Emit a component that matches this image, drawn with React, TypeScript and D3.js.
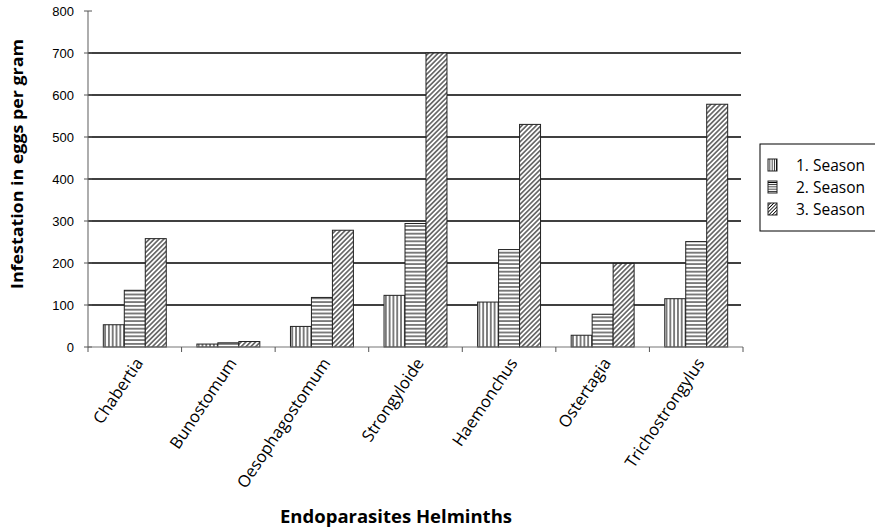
import { useEffect, useRef } from "react";
import * as d3 from "d3";

const categories = [
  "Chabertia",
  "Bunostomum",
  "Oesophagostomum",
  "Strongyloide",
  "Haemonchus",
  "Ostertagia",
  "Trichostrongylus",
];
const seasonNames = ["1. Season", "2. Season", "3. Season"];
const season1 = [53, 7, 49, 123, 107, 28, 115];
const season2 = [135, 10, 118, 294, 232, 78, 251];
const season3 = [258, 13, 278, 700, 530, 199, 578];
const yTicks = [0, 100, 200, 300, 400, 500, 600, 700, 800];

const W = 875;
const H = 530;
const labelFont = "'Open Sans', 'Noto Sans', sans-serif";
const tickFont = "'Liberation Sans', Arial, sans-serif";

export default function App() {
  const svgRef = useRef<SVGSVGElement | null>(null);

  useEffect(() => {
    if (!svgRef.current) return;
    const svg = d3.select(svgRef.current);
    svg.selectAll("*").remove();

    const plot = { left: 88, right: 743, top: 11, bottom: 347 };

    const x = d3
      .scaleBand<string>()
      .domain(categories)
      .range([plot.left, plot.right])
      .padding(0);
    const xInner = d3
      .scaleBand<string>()
      .domain(seasonNames)
      .range([0, x.bandwidth()])
      .paddingInner(0)
      .paddingOuter(0.73);
    const y = d3.scaleLinear().domain([0, 800]).range([plot.bottom, plot.top]);

    // hatch patterns, one per season (denser copies for the legend swatches)
    const defs = svg.append("defs");
    const addPattern = (id: string, rotate: number, step: number, sw: number) => {
      const p = defs
        .append("pattern")
        .attr("id", id)
        .attr("patternUnits", "userSpaceOnUse")
        .attr("width", step)
        .attr("height", step)
        .attr("patternTransform", `rotate(${rotate})`);
      p.append("rect").attr("width", step).attr("height", step).attr("fill", "#fff");
      p.append("line")
        .attr("x1", step / 2).attr("x2", step / 2).attr("y1", 0).attr("y2", step)
        .attr("stroke", "#000").attr("stroke-width", sw);
    };
    addPattern("pat-s1", 0, 3.8, 1);
    addPattern("pat-s2", 90, 3.8, 1);
    addPattern("pat-s3", 45, 3.4, 1);
    addPattern("leg-s1", 0, 2.2, 0.8);
    addPattern("leg-s2", 90, 2.2, 0.8);
    addPattern("leg-s3", 45, 2.4, 0.8);

    const fills = ["url(#pat-s1)", "url(#pat-s2)", "url(#pat-s3)"];
    const legFills = ["url(#leg-s1)", "url(#leg-s2)", "url(#leg-s3)"];
    const series = [season1, season2, season3];

    svg.append("rect").attr("width", W).attr("height", H).attr("fill", "#fff");

    // gridlines
    svg
      .append("g")
      .selectAll("line")
      .data(yTicks.filter((t) => t > 0 && t < 800))
      .enter()
      .append("line")
      .attr("x1", plot.left)
      .attr("x2", plot.right - 2)
      .attr("y1", (d) => y(d))
      .attr("y2", (d) => y(d))
      .attr("stroke", "#000")
      .attr("stroke-width", 1.3);

    // bars
    categories.forEach((c, i) => {
      const g = svg.append("g").attr("transform", `translate(${x(c)},0)`);
      series.forEach((vals, s) => {
        g.append("rect")
          .attr("x", xInner(seasonNames[s]) || 0)
          .attr("y", y(vals[i]))
          .attr("width", xInner.bandwidth())
          .attr("height", y(0) - y(vals[i]))
          .attr("fill", fills[s])
          .attr("stroke", "#222")
          .attr("stroke-width", 1);
      });
    });

    // y axis
    svg.append("line")
      .attr("x1", plot.left).attr("x2", plot.left)
      .attr("y1", plot.top).attr("y2", plot.bottom)
      .attr("stroke", "#777").attr("stroke-width", 1.2);
    const yt = svg.append("g").selectAll("g").data(yTicks).enter().append("g");
    yt.append("line")
      .attr("x1", plot.left - 4).attr("x2", plot.left + 4)
      .attr("y1", (d) => y(d)).attr("y2", (d) => y(d))
      .attr("stroke", "#555").attr("stroke-width", 1);
    yt.append("text")
      .attr("x", plot.left - 14)
      .attr("y", (d) => y(d))
      .attr("dy", "0.36em")
      .attr("text-anchor", "end")
      .attr("font-family", tickFont)
      .attr("font-size", 13)
      .attr("fill", "#000")
      .text((d) => String(d));

    // x axis
    svg.append("line")
      .attr("x1", plot.left).attr("x2", plot.right)
      .attr("y1", plot.bottom).attr("y2", plot.bottom)
      .attr("stroke", "#777").attr("stroke-width", 1.2);
    const bounds = categories.map((c) => x(c) || 0).concat([plot.right]);
    svg.append("g")
      .selectAll("line")
      .data(bounds)
      .enter()
      .append("line")
      .attr("x1", (d) => d).attr("x2", (d) => d)
      .attr("y1", plot.bottom).attr("y2", plot.bottom + 5)
      .attr("stroke", "#555").attr("stroke-width", 1);

    svg.append("g")
      .selectAll("text")
      .data(categories)
      .enter()
      .append("text")
      .attr(
        "transform",
        (d) => `translate(${(x(d) || 0) + x.bandwidth() / 2 + 9},${plot.bottom + 16}) rotate(-56)`
      )
      .attr("text-anchor", "end")
      .attr("font-family", labelFont)
      .attr("font-size", 16.5)
      .attr("fill", "#000")
      .text((d) => d);

    // axis titles
    svg.append("text")
      .attr("transform", `translate(23,164) rotate(-90)`)
      .attr("text-anchor", "middle")
      .attr("font-family", labelFont)
      .attr("font-weight", "bold")
      .attr("font-size", 16)
      .attr("textLength", 250)
      .attr("lengthAdjust", "spacingAndGlyphs")
      .text("Infestation in eggs per gram");
    svg.append("text")
      .attr("x", 396)
      .attr("y", 523)
      .attr("text-anchor", "middle")
      .attr("font-family", labelFont)
      .attr("font-weight", "bold")
      .attr("font-size", 18)
      .attr("textLength", 232)
      .attr("lengthAdjust", "spacingAndGlyphs")
      .text("Endoparasites Helminths");

    // legend
    const lg = svg.append("g").attr("transform", "translate(760,144)");
    lg.append("rect")
      .attr("width", 130).attr("height", 87)
      .attr("fill", "#fff").attr("stroke", "#000").attr("stroke-width", 1);
    seasonNames.forEach((name, s) => {
      const cy = 21 + s * 22;
      lg.append("rect")
        .attr("x", 8).attr("y", cy - 6)
        .attr("width", 9).attr("height", 12)
        .attr("fill", legFills[s]).attr("stroke", "#222").attr("stroke-width", 1);
      lg.append("text")
        .attr("x", 36).attr("y", cy)
        .attr("dy", "0.36em")
        .attr("font-family", labelFont)
        .attr("font-size", 15.5)
        .text(name);
    });
  }, []);

  return (
    <svg
      ref={svgRef}
      width={W}
      height={H}
      style={{ position: "absolute", left: 0, top: 0, display: "block" }}
    />
  );
}
